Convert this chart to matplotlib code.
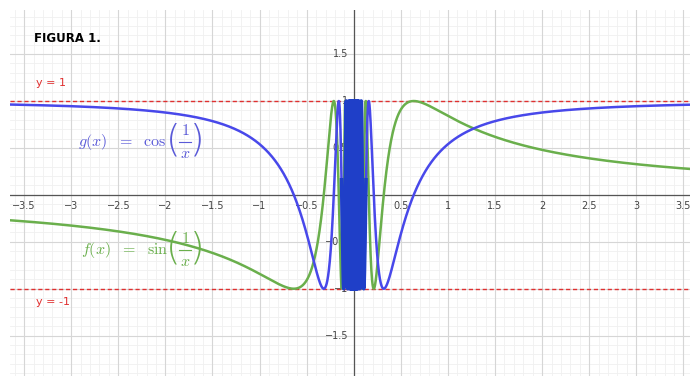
import numpy as np
import matplotlib
matplotlib.use("Agg")
import matplotlib.pyplot as plt

# --- data ---
x_view = [-3.65, 3.57]
y_view = [-1.93, 1.97]
x_ticks = [-3.5, -3, -2.5, -2, -1.5, -1, -0.5, 0.5, 1, 1.5, 2, 2.5, 3, 3.5]
x_tick_labels = ["\u22123.5", "\u22123", "\u22122.5", "\u22122", "\u22121.5", "\u22121", "\u22120.5",
                 "0.5", "1", "1.5", "2", "2.5", "3", "3.5"]
y_ticks = [-1.5, -1, -0.5, 0.5, 1, 1.5]
y_tick_labels = ["\u22121.5", "\u22121", "\u22120.5", "0.5", "1", "1.5"]
asymptotes = [1, -1]
dense_limit = 0.13

x_neg = -np.geomspace(1e-4, 3.7, 120000)[::-1]
x_pos = np.geomspace(1e-4, 3.7, 120000)
x_vals = np.concatenate([x_neg, [np.nan], x_pos])
f_vals = np.sin(1 / x_vals)
g_vals = np.cos(1 / x_vals)
near = np.abs(x_vals) < dense_limit

plt.rcParams['mathtext.fontset'] = 'cm'
fig = plt.figure(figsize=(6.9, 3.76), dpi=100)
ax = fig.add_axes([10 / 690, 0, 680 / 690, 366 / 376])
ax.set_xlim(*x_view)
ax.set_ylim(*y_view)
for s in ax.spines.values():
    s.set_visible(False)
ax.set_xticks([])
ax.set_yticks([])

# grid
for v in np.arange(-3.6, 3.6, 0.1):
    ax.axvline(v, color="#f0f0f0", lw=0.6, zorder=0)
for v in np.arange(-1.9, 2.0, 0.1):
    ax.axhline(v, color="#f0f0f0", lw=0.6, zorder=0)
for v in np.arange(-3.5, 3.6, 0.5):
    ax.axvline(v, color="#d6d6d6", lw=0.8, zorder=0)
for v in np.arange(-1.5, 2.0, 0.5):
    ax.axhline(v, color="#d6d6d6", lw=0.8, zorder=0)
ax.axhline(0, color="#555555", lw=0.9, zorder=1)
ax.axvline(0, color="#555555", lw=0.9, zorder=1)

for t, lab in zip(x_ticks, x_tick_labels):
    ax.text(t, -0.06, lab, ha="center", va="top", fontsize=7, color="#444444", zorder=2)
for t, lab in zip(y_ticks, y_tick_labels):
    ax.text(-0.06, t, lab, ha="right", va="center", fontsize=7, color="#444444", zorder=2)

for a in asymptotes:
    ax.axhline(a, color="#e03030", lw=1.0, ls=(0, (3, 2)), zorder=3)

ax.plot(x_vals, f_vals, color="#6aaf4c", lw=1.8, zorder=4)
ax.plot(x_vals, g_vals, color="#4848ea", lw=1.8, zorder=5)
ax.plot(np.where(near, x_vals, np.nan), g_vals, color="#1f3fc8", lw=2.6, zorder=5.5)

ax.text(-3.4, 1.67, "FIGURA 1.", fontsize=8.5, fontweight="bold", color="black", va="center")
ax.text(-3.37, 1.19, "y = 1", fontsize=8, color="#e03030", va="center")
ax.text(-3.37, -1.14, "y = -1", fontsize=8, color="#e03030", va="center")


def formula(x0, yc, lhs, color):
    ax.text(x0, yc, lhs, fontsize=11.5, color=color, va="center", ha="left", zorder=6)
    ax.text(-1.915, yc + 0.02, "(", fontsize=27, color=color, va="center", ha="center",
            family="DejaVu Sans", fontweight="light", zorder=6)
    ax.text(-1.665, yc + 0.02, ")", fontsize=27, color=color, va="center", ha="center",
            family="DejaVu Sans", fontweight="light", zorder=6)
    ax.text(-1.79, yc + 0.13, r"$1$", fontsize=11.5, color=color, va="center", ha="center", zorder=6)
    ax.text(-1.79, yc - 0.12, r"$x$", fontsize=11.5, color=color, va="center", ha="center", zorder=6)
    ax.plot([-1.855, -1.725], [yc, yc], color=color, lw=0.8, zorder=6)


formula(-2.93, 0.56, r"$g(x)\ \ =\ \ \cos$", "#5a5ad8")
formula(-2.9, -0.59, r"$f(x)\ \ =\ \ \sin$", "#6aaf4c")

fig.savefig("out.png", dpi=100)
